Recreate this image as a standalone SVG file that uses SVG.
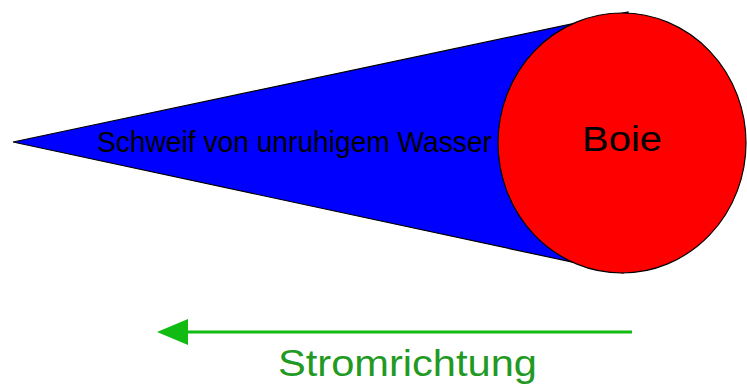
<svg xmlns="http://www.w3.org/2000/svg" width="747" height="385" viewBox="0 0 747 385">
  <style>
    .shape { stroke: #000; stroke-width: 1.2; }
    .lbl { font-family: "Liberation Sans", Arial, sans-serif; fill: #000; }
    .green { fill: #229922; }
  </style>
  <defs>
    <marker id="ah" markerUnits="userSpaceOnUse" markerWidth="32" markerHeight="28" refX="0" refY="14" orient="auto" viewBox="0 0 32 28">
      <path d="M0,1 L31,14 L0,27 Z" fill="#11bb11"/>
    </marker>
  </defs>
  <rect width="747" height="385" fill="#fff"/>
  <g id="schweif">
    <polygon class="shape" points="13,142 628,12 623,273" fill="#0000ff"/>
    <text class="lbl" x="97" y="152" font-size="29" textLength="395" lengthAdjust="spacingAndGlyphs">Schweif von unruhigem Wasser</text>
  </g>
  <g id="boie">
    <ellipse class="shape" cx="622" cy="143" rx="124" ry="130" fill="#ff0000"/>
    <text class="lbl" x="582" y="151" font-size="35" textLength="80" lengthAdjust="spacingAndGlyphs">Boie</text>
  </g>
  <g id="connectors">
    <line x1="632" y1="332" x2="188" y2="332" stroke="#11bb11" stroke-width="3" marker-end="url(#ah)"/>
  </g>
  <g id="stromrichtung">
    <text class="lbl green" x="278" y="376" font-size="37" textLength="259" lengthAdjust="spacingAndGlyphs">Stromrichtung</text>
  </g>
</svg>
